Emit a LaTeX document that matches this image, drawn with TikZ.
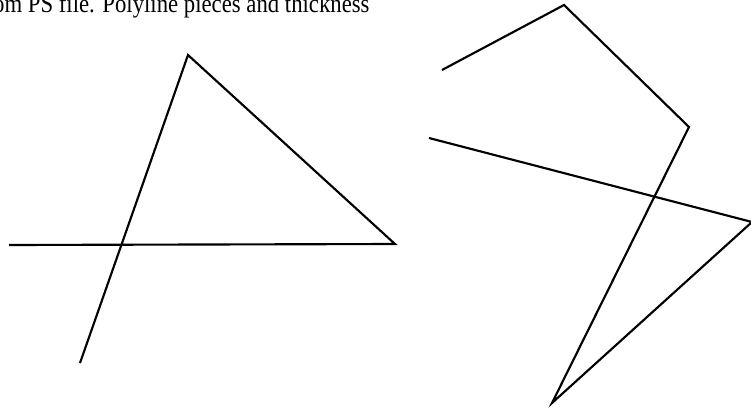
\documentclass[tikz,border=0pt]{standalone}
\usepackage{fontspec}
\setmainfont{Liberation Serif}

\begin{document}
\begin{tikzpicture}[x=0.75pt,y=-0.75pt,line width=1.6pt,line join=miter]
  \clip (0,0) rectangle (751,408);
  \coordinate (a1) at (80,363);
  \coordinate (a2) at (188,55);
  \coordinate (a3) at (395,244);
  \coordinate (a4) at (9,245);
  \coordinate (b1) at (442,70);
  \coordinate (b2) at (564,5);
  \coordinate (b3) at (689,127);
  \coordinate (b4) at (552,403);
  \coordinate (b5) at (752,222);
  \coordinate (b6) at (429,138);
  \node[anchor=base west,inner sep=0pt,font=\fontsize{17.05}{20}\selectfont] (title) at (-23,12.9) {\scalebox{1}[1.14]{from PS file. Polyline pieces and thickness}};
  \draw (a1) -- (a2) -- (a3) -- (a4);
  \draw (b1) -- (b2) -- (b3) -- (b4) -- (b5) -- (b6);
\end{tikzpicture}
\end{document}
